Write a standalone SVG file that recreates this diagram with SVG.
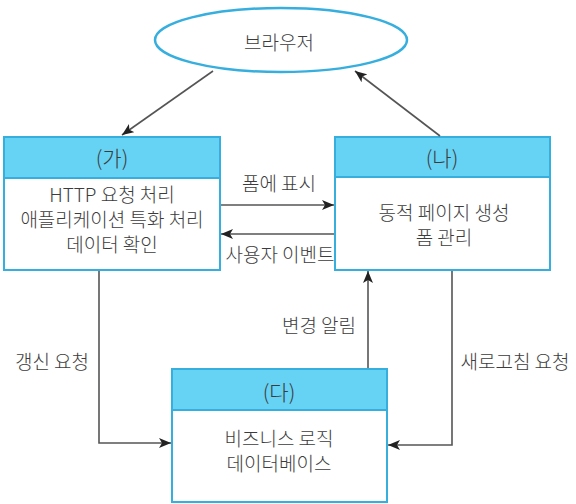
<svg xmlns="http://www.w3.org/2000/svg" width="576" height="504" viewBox="0 0 576 504">
<style>
.box{fill:#ffffff;stroke:#36aede;stroke-width:2}
.hdr{fill:#66d2f4;stroke:#36aede;stroke-width:2}
.t{font-family:"Noto Sans CJK KR","Noto Sans",sans-serif;font-size:19px;font-weight:300;fill:#3c3c3c;text-anchor:middle;dominant-baseline:central}
.h{font-size:21px}
.conn{fill:none;stroke:#555555;stroke-width:1.6}
</style>
<defs>
<marker id="arr" viewBox="0 0 12 10" refX="12" refY="5" markerWidth="12" markerHeight="10" markerUnits="userSpaceOnUse" orient="auto">
<path d="M0,0 L12,5 L0,10 L3,5 Z" fill="#222222"/>
</marker>
</defs>
<rect width="576" height="504" fill="#ffffff"/>
<g id="browser">
<ellipse cx="281" cy="40" rx="126" ry="32" fill="#ffffff" stroke="#36aede" stroke-width="2.5"/>
<text class="t" x="279" y="41">브라우저</text>
</g>
<g id="ga">
<rect class="box" x="4" y="137" width="216" height="133"/>
<rect class="hdr" x="4" y="137" width="216" height="41"/>
<text class="t h" x="112" y="157">(가)</text>
<text class="t" x="112" y="193">HTTP 요청 처리</text>
<text class="t" x="112" y="218">애플리케이션 특화 처리</text>
<text class="t" x="112" y="243">데이터 확인</text>
</g>
<g id="na">
<rect class="box" x="335" y="137" width="215" height="133"/>
<rect class="hdr" x="335" y="137" width="215" height="40"/>
<text class="t h" x="442" y="157">(나)</text>
<text class="t" x="444" y="211">동적 페이지 생성</text>
<text class="t" x="444" y="236">폼 관리</text>
</g>
<g id="da">
<rect class="box" x="172" y="369" width="215" height="133"/>
<rect class="hdr" x="172" y="369" width="215" height="41"/>
<text class="t h" x="279" y="391">(다)</text>
<text class="t" x="279" y="437">비즈니스 로직</text>
<text class="t" x="279" y="462">데이터베이스</text>
</g>
<g id="connectors">
<line class="conn" x1="213" y1="71" x2="122" y2="135" marker-end="url(#arr)"/>
<line class="conn" x1="440" y1="136" x2="355" y2="71" marker-end="url(#arr)"/>
<line class="conn" x1="221" y1="205" x2="334" y2="205" marker-end="url(#arr)"/>
<line class="conn" x1="334" y1="234" x2="221" y2="234" marker-end="url(#arr)"/>
<polyline class="conn" points="99,271 99,443 171,443" marker-end="url(#arr)"/>
<line class="conn" x1="368" y1="368" x2="368" y2="271" marker-end="url(#arr)"/>
<polyline class="conn" points="452,271 452,445 388,445" marker-end="url(#arr)"/>
<text class="t" x="279" y="182">폼에 표시</text>
<text class="t" x="280" y="253">사용자 이벤트</text>
<text class="t" x="52" y="360">갱신 요청</text>
<text class="t" x="319" y="324">변경 알림</text>
<text class="t" x="515" y="360">새로고침 요청</text>
</g>
</svg>
